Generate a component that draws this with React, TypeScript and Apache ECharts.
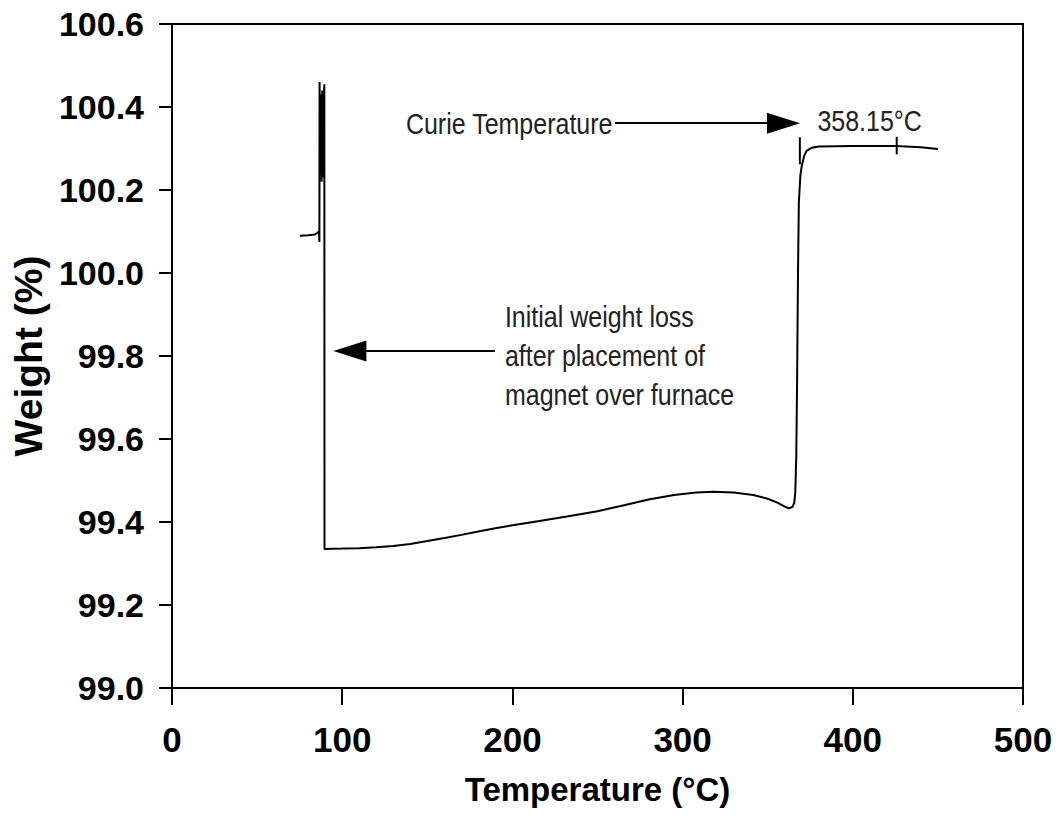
import React, { useEffect, useRef } from "react";
import * as echarts from "echarts";

// Temperature (°C) and weight (%)
const temperature = [
  75.2, 80, 84, 85.5, 86.3, 86.6, 86.7, 87.1, 87.5, 87.9, 88.3, 88.7, 89.1, 89.5, 89.6,
  100, 110, 120, 130, 140, 150, 161, 170, 180, 190, 200, 215, 232, 250, 265, 280, 295,
  308, 318, 330, 341.5, 350, 356, 360, 362.5, 364.5, 365.6, 366.2, 366.8, 367.3, 367.8,
  368.3, 369.2, 370, 371.5, 373, 376, 380, 400, 425, 440, 450,
];
const weight = [
  100.09, 100.091, 100.093, 100.097, 100.1, 100.075, 100.46, 100.24, 100.43, 100.22,
  100.44, 100.23, 100.42, 100.455, 99.335,
  99.336, 99.337, 99.339, 99.342, 99.347, 99.354, 99.362, 99.369, 99.377, 99.385,
  99.392, 99.402, 99.413, 99.426, 99.44, 99.454, 99.465, 99.471, 99.473, 99.471,
  99.465, 99.456, 99.446, 99.437, 99.433, 99.436, 99.446, 99.47, 99.56, 99.75, 100.0,
  100.17, 100.235, 100.258, 100.283, 100.295, 100.302, 100.305, 100.306, 100.306,
  100.303, 100.299,
];

// small vertical marker ticks on the plateau
const curieMarker = [[368.9, 100.327], [368.9, 100.262]];
const endMarker = [[425.8, 100.328], [425.8, 100.286]];

// axis settings
const xMin = 0, xMax = 500, xStep = 100;
const yMin = 99.0, yMax = 100.6, yStep = 0.2;

// annotation arrows (data coordinates; "to" is the arrow-head centre)
const arrowCurie = [[260.3, 100.361], [359.3, 100.361]];
const arrowLoss = [[189.8, 99.812], [104.5, 99.812]];

// annotation texts
const noteCurie = { text: "Curie Temperature", at: [258.8, 100.357], align: "right" };
const noteValue = { text: "358.15°C", at: [379.2, 100.366], align: "left" };
const noteLoss = {
  text: "Initial weight loss\nafter placement of\nmagnet over furnace",
  at: [195.6, 99.8],
  align: "left",
};

const FONT = "'Liberation Sans', Arial, sans-serif";

export default function App() {
  const ref = useRef<HTMLDivElement>(null);
  useEffect(() => {
    if (!ref.current) return;
    const chart = echarts.init(ref.current, undefined, { renderer: "svg" });
    const axisLine = { show: true, lineStyle: { color: "#000", width: 2 } };
    const option: any = {
      animation: false,
      backgroundColor: "#fff",
      grid: {
        left: 172, right: 40, top: 24, bottom: 127,
        show: true, borderColor: "#000", borderWidth: 2,
        containLabel: false, outerBoundsMode: "none",
      },
      xAxis: {
        type: "value", min: xMin, max: xMax, interval: xStep,
        axisLine, splitLine: { show: false },
        axisTick: { show: true, inside: false, length: 17, lineStyle: { color: "#000", width: 2 } },
        axisLabel: { fontFamily: FONT, fontSize: 35, fontWeight: "bold", color: "#000", margin: 34 },
        name: "Temperature (°C)", nameLocation: "middle", nameGap: 85,
        nameTextStyle: { fontFamily: FONT, fontSize: 33, fontWeight: "bold", color: "#000" },
      },
      yAxis: {
        type: "value", min: yMin, max: yMax, interval: yStep,
        axisLine, splitLine: { show: false },
        axisTick: { show: true, inside: false, length: 13, lineStyle: { color: "#000", width: 2 } },
        axisLabel: {
          fontFamily: FONT, fontSize: 34, fontWeight: "bold", color: "#000", margin: 28,
          formatter: (v: number) => v.toFixed(1),
        },
        name: "Weight (%)", nameLocation: "middle", nameRotate: 90, nameGap: 122,
        nameTextStyle: { fontFamily: FONT, fontSize: 39, fontWeight: "bold", color: "#000" },
      },
      series: [
        {
          type: "line",
          data: temperature.map((t, i) => [t, weight[i]]),
          symbol: "none",
          lineStyle: { color: "#000", width: 2 },
          markLine: {
            silent: true,
            symbol: ["none", "triangle"],
            symbolSize: [21, 33],
            lineStyle: { color: "#000", width: 2, type: "solid" },
            label: { show: false },
            data: [
              [{ coord: arrowCurie[0] }, { coord: arrowCurie[1] }],
              [{ coord: arrowLoss[0] }, { coord: arrowLoss[1] }],
            ],
          },
        },
        { type: "line", data: curieMarker, symbol: "none", lineStyle: { color: "#000", width: 2 } },
        { type: "line", data: endMarker, symbol: "none", lineStyle: { color: "#000", width: 2 } },
      ],
    };
    chart.setOption(option);
    const mk = (n: any, lh: number) => {
      const p = chart.convertToPixel({ gridIndex: 0 }, n.at) as number[];
      return {
        type: "text",
        x: p[0],
        y: p[1],
        scaleY: 1.15,
        style: {
          text: n.text,
          fontFamily: FONT,
          fontSize: 25,
          fill: "#222",
          align: n.align,
          verticalAlign: "middle",
          lineHeight: lh,
        },
      };
    };
    chart.setOption({ graphic: [mk(noteCurie, 30), mk(noteValue, 30), mk(noteLoss, 34)] });
    return () => chart.dispose();
  }, []);
  return (
    <div
      ref={ref}
      style={{ position: "fixed", left: 0, top: 0, width: 1063, height: 815, background: "#fff" }}
    />
  );
}
